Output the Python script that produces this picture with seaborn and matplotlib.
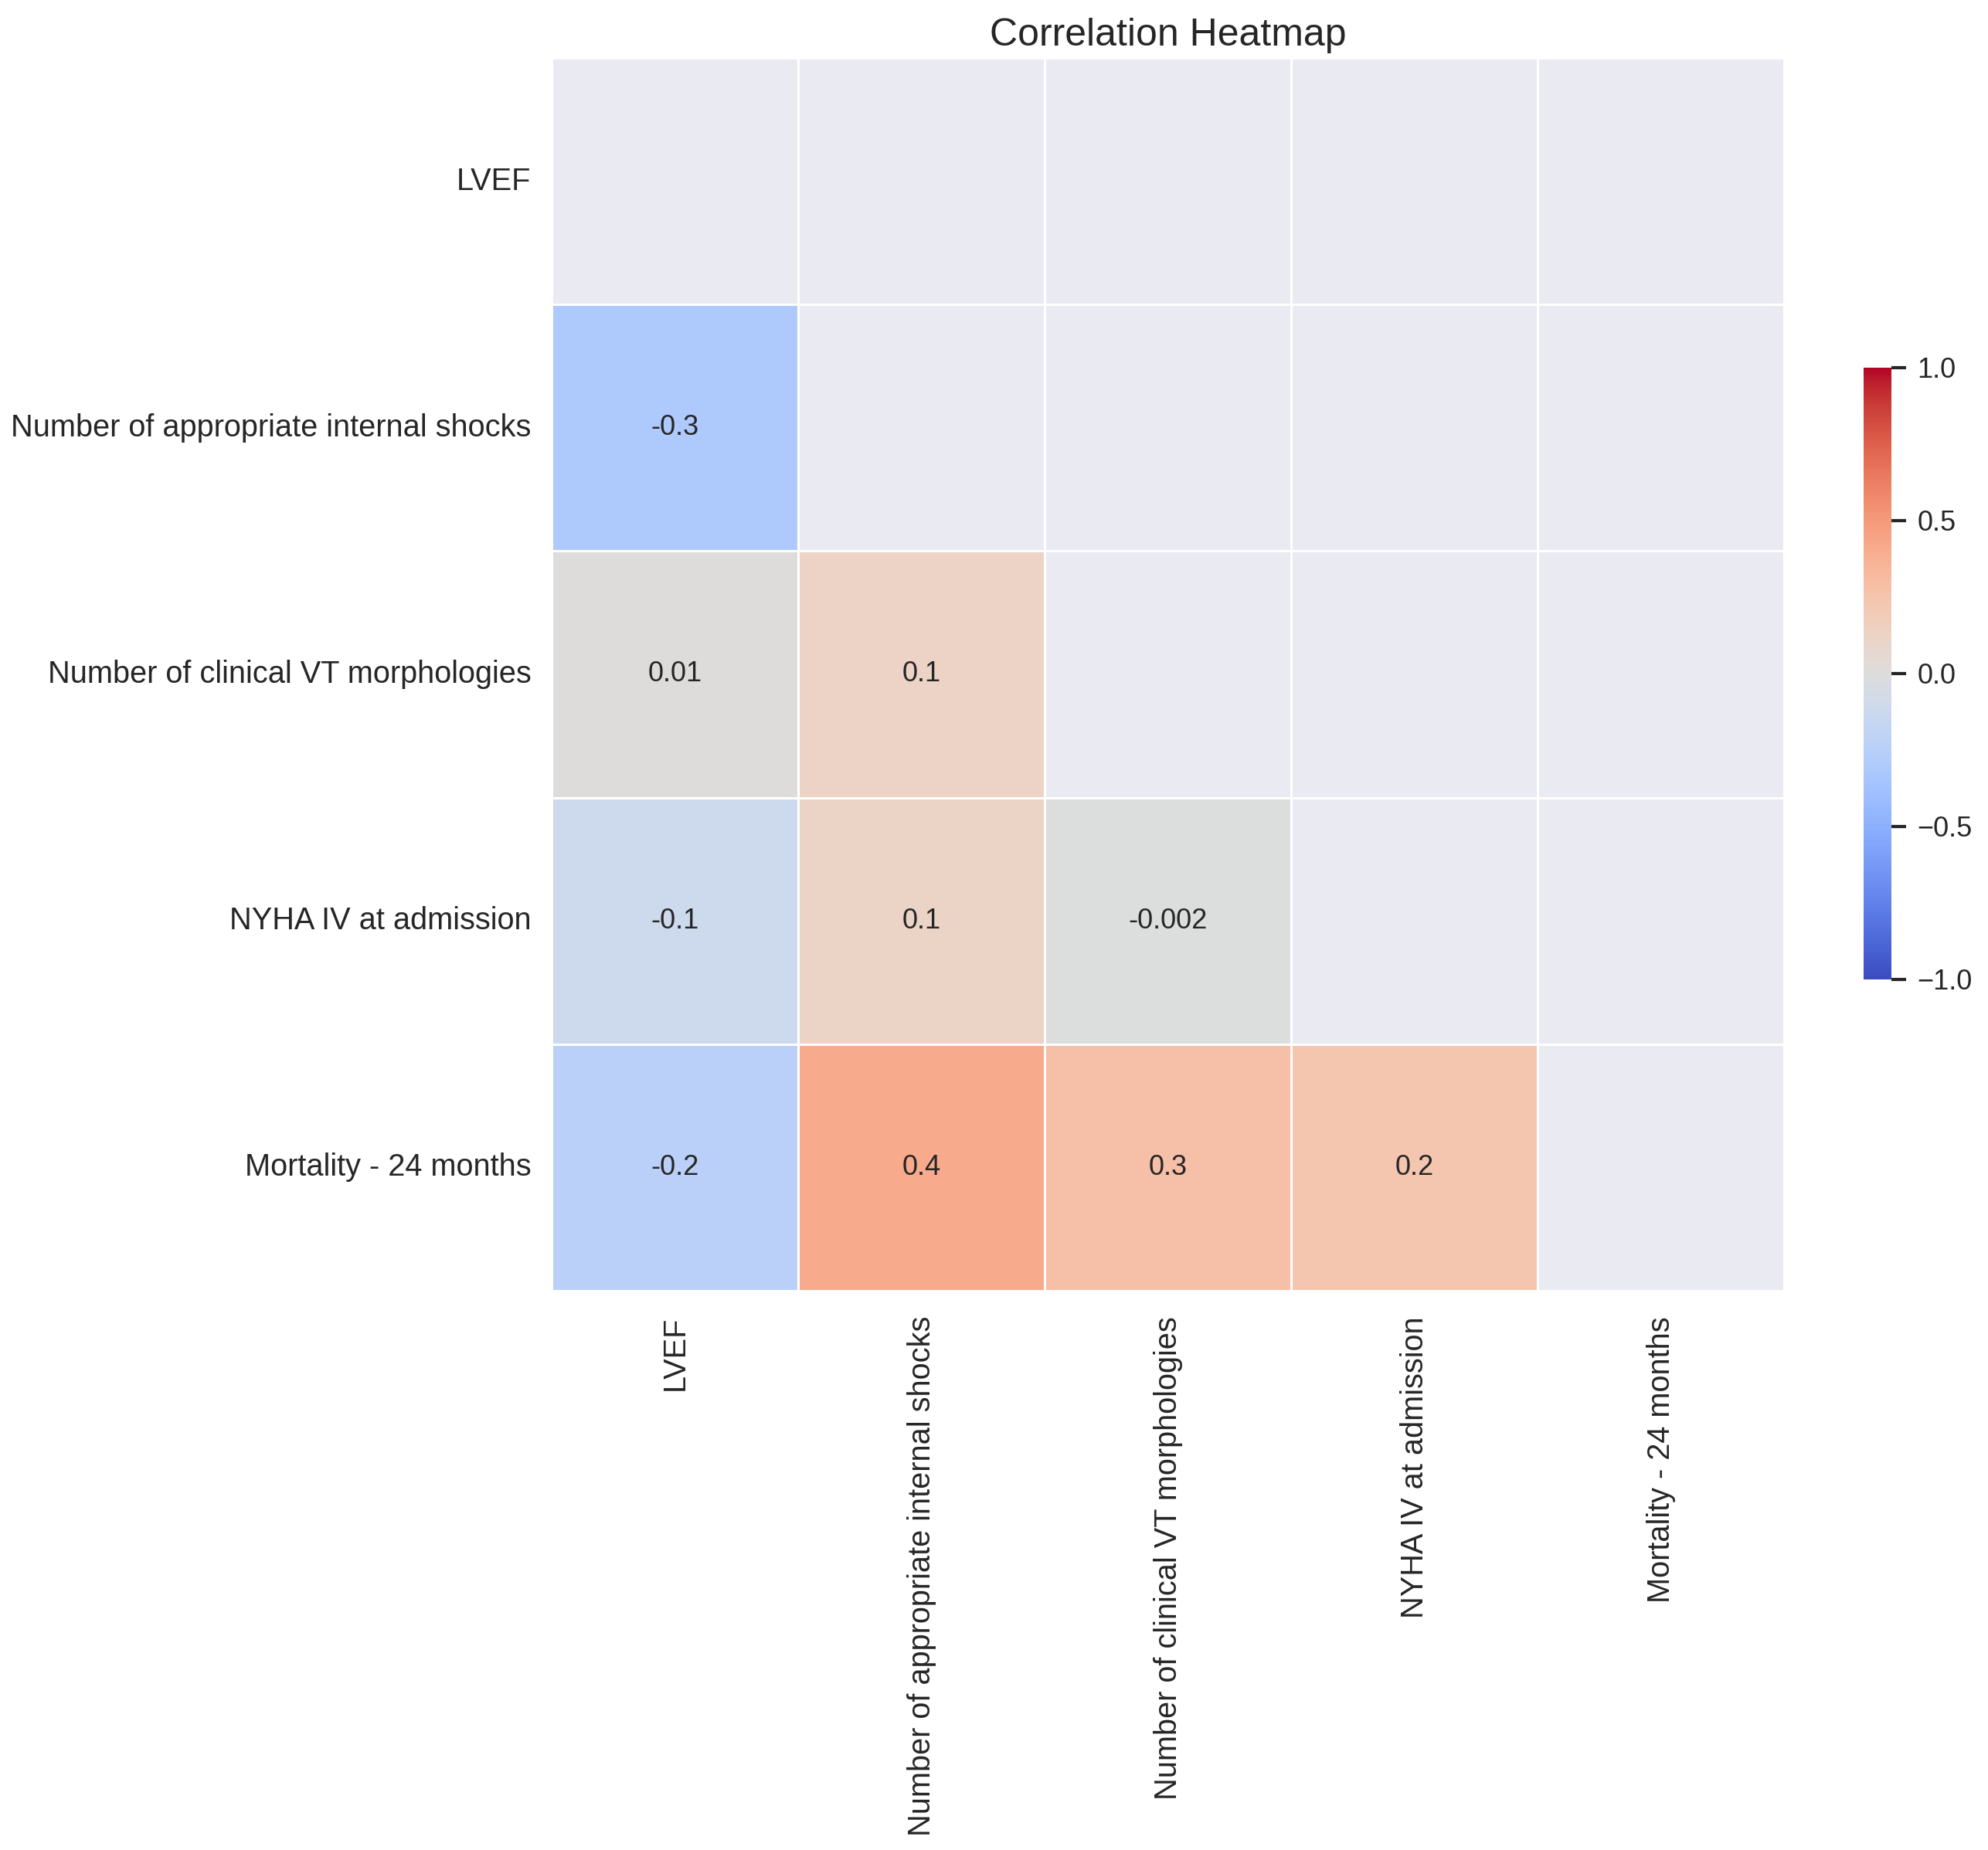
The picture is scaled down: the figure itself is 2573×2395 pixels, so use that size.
import seaborn as sns
import matplotlib.pyplot as plt
import numpy as np
import pandas as pd

variables = ['LVEF',
             'Number of appropriate internal shocks',
             'Number of clinical VT morphologies',
             'NYHA IV at admission',
             'Mortality - 24 months']

# lower triangle of the correlation matrix, row by row
row_shocks = [-0.31]
row_vt = [0.01, 0.13]
row_nyha = [-0.11, 0.12, -0.002]
row_mortality = [-0.24, 0.41, 0.28, 0.24]

lower_rows = [row_shocks, row_vt, row_nyha, row_mortality]

cbar_ticks = [-1.0, -0.5, 0.0, 0.5, 1.0]

n = len(variables)
corr = np.eye(n)
for i, row in enumerate(lower_rows, start=1):
    for j, v in enumerate(row):
        corr[i, j] = v
        corr[j, i] = v
corr = pd.DataFrame(corr, index=variables, columns=variables)

mask = np.triu(np.ones_like(corr, dtype=bool))

sns.set_theme()
plt.rcParams['font.family'] = ['Liberation Sans', 'DejaVu Sans']

fig = plt.figure(figsize=(12.865, 11.975), dpi=200)
ax = fig.add_axes([0.2775, 0.302, 0.62, 0.667])
cax = fig.add_axes([0.9374, 0.4706, 0.014, 0.3307])

sns.heatmap(corr, mask=mask, cmap='coolwarm', vmin=-1, vmax=1, center=0,
            annot=True, fmt='.1g', linewidths=1, linecolor='white',
            square=True, ax=ax, cbar_ax=cax,
            cbar_kws={'ticks': cbar_ticks},
            annot_kws={'fontsize': 13})
ax.grid(False)

ax.set_title('Correlation Heatmap', fontsize=18)
ax.set_xticklabels(ax.get_xticklabels(), rotation=90, fontsize=14.3)
ax.set_yticklabels(ax.get_yticklabels(), rotation=0, fontsize=14.3)
ax.tick_params(axis='x', pad=6)
cax.tick_params(labelsize=13, length=7, width=1.5, pad=5)

fig.savefig('out.png', dpi=200)
